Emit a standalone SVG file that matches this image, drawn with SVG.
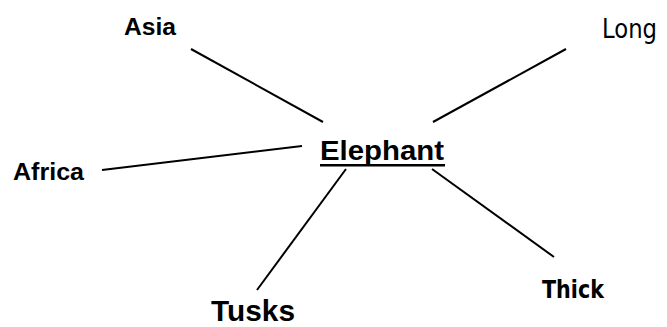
<svg xmlns="http://www.w3.org/2000/svg" width="667" height="327" viewBox="0 0 667 327">
<style>
.b{font-family:"Liberation Sans",Arial,sans-serif;font-weight:bold;fill:#000}
.d{font-family:"DejaVu Sans",sans-serif;fill:#000}
.c{stroke:#000;stroke-width:2;fill:none}
</style>
<rect width="667" height="327" fill="#fff"/>
<g id="connectors">
<line class="c" x1="191" y1="49" x2="323" y2="122"/>
<line class="c" x1="433" y1="122" x2="566" y2="49"/>
<line class="c" x1="102" y1="170" x2="302" y2="146"/>
<line class="c" x1="257" y1="290" x2="346" y2="169"/>
<line class="c" x1="432" y1="169" x2="554" y2="257"/>
</g>
<g id="elephant">
<text class="b" x="320" y="160" font-size="28" textLength="124" lengthAdjust="spacingAndGlyphs">Elephant</text>
<rect x="320" y="164" width="125" height="2.5" fill="#000"/>
</g>
<g id="asia"><text class="b" x="124" y="35" font-size="23" textLength="52" lengthAdjust="spacingAndGlyphs">Asia</text></g>
<g id="long"><text class="d" x="602" y="38" font-size="27" textLength="55" lengthAdjust="spacingAndGlyphs">Long</text></g>
<g id="africa"><text class="b" x="13" y="180" font-size="23" textLength="71" lengthAdjust="spacingAndGlyphs">Africa</text></g>
<g id="tusks"><text class="b" x="211" y="321" font-size="29" textLength="84" lengthAdjust="spacingAndGlyphs">Tusks</text></g>
<g id="thick"><text class="d" x="542" y="298" font-size="25" font-weight="bold" textLength="62" lengthAdjust="spacingAndGlyphs">Thick</text></g>
</svg>
